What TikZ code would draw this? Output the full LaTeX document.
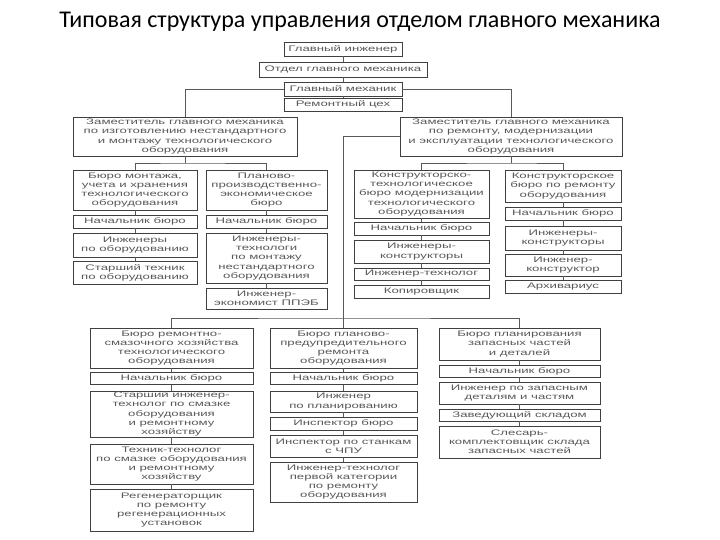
\documentclass[tikz,border=0pt]{standalone}
\usepackage{fontspec}
\newfontfamily\titlefont{Carlito}
\newfontfamily\boxfont[FakeStretch=1.65]{Liberation Sans}
\usetikzlibrary{positioning}

\tikzset{
  box/.style 2 args={draw=black!75, line width=0.7pt, align=center, inner sep=0pt,
    minimum width=#1, minimum height=#2, text=black!65,
    font=\boxfont\fontsize{8}{9.2}\selectfont},
  link/.style={draw=black!65, line width=0.7pt}
}

\begin{document}
\begin{tikzpicture}[x=1pt, y=-1pt]
    \fill[white] (0,0) rectangle (720,540);
    \useasboundingbox (0,0) rectangle (720,540);

    \node[font=\titlefont\fontsize{24}{28}\selectfont] (title) at (360,22)
        {Типовая структура управления отделом главного механика};

    % Top chain
    \node[box={118}{14}] (gi) at (343,49) {Главный инженер};
    \node[box={168}{15}] (ogm) at (343,69.5) {Отдел главного механика};
    \node[box={118}{14}] (gm) at (343,89) {Главный механик};
    \node[box={118}{13}] (rc) at (343,104.5) {Ремонтный цех};

    % Deputies
    \node[box={224}{39}] (zl) at (185,136.5) {Заместитель главного механика\\по изготовлению нестандартного\\и монтажу технологического\\оборудования};
    \node[box={222}{39}] (zr) at (511,136.5) {Заместитель главного механика\\по ремонту, модернизации\\и эксплуатации технологического\\оборудования};

    % Column A
    \node[box={124}{40}] (a1) at (135,190) {Бюро монтажа,\\учета и хранения\\технологического\\оборудования};
    \node[box={124}{13}] (a2) at (135,221.5) {Начальник бюро};
    \node[box={124}{24}] (a3) at (135,245) {Инженеры\\по оборудованию};
    \node[box={124}{23}] (a4) at (135,272.5) {Старший техник\\по оборудованию};

    % Column B
    \node[box={121}{40}] (b1) at (266.5,190) {Планово-\\производственно-\\экономическое\\бюро};
    \node[box={121}{13}] (b2) at (266.5,221.5) {Начальник бюро};
    \node[box={121}{50}] (b3) at (266.5,258) {Инженеры-\\технологи\\по монтажу\\нестандартного\\оборудования};
    \node[box={121}{21}] (b4) at (266.5,298.5) {Инженер-\\экономист ППЭБ};

    % Column C
    \node[box={135}{48}] (c1) at (421.5,194) {Конструкторско-\\технологическое\\бюро модернизации\\технологического\\оборудования};
    \node[box={135}{13}] (c2) at (421.5,228.5) {Начальник бюро};
    \node[box={135}{23}] (c3) at (421.5,251.5) {Инженеры-\\конструкторы};
    \node[box={135}{12}] (c4) at (421.5,274) {Инженер-технолог};
    \node[box={135}{13}] (c5) at (421.5,291.5) {Копировщик};

    % Column D
    \node[box={116}{32}] (d1) at (563,186) {Конструкторское\\бюро по ремонту\\оборудования};
    \node[box={116}{13}] (d2) at (563,213.5) {Начальник бюро};
    \node[box={116}{24}] (d3) at (563,238) {Инженеры-\\конструкторы};
    \node[box={116}{22}] (d4) at (563,265) {Инженер-\\конструктор};
    \node[box={116}{13}] (d5) at (563,286.5) {Архивариус};

    % Column E
    \node[box={163}{40}] (e1) at (171.5,348) {Бюро ремонтно-\\смазочного хозяйства\\технологического\\оборудования};
    \node[box={163}{12}] (e2) at (171.5,378.5) {Начальник бюро};
    \node[box={163}{46}] (e3) at (171.5,414) {Старший инженер-\\технолог по смазке\\оборудования\\и ремонтному\\хозяйству};
    \node[box={163}{40}] (e4) at (171.5,464) {Техник-технолог\\по смазке оборудования\\и ремонтному\\хозяйству};
    \node[box={163}{42}] (e5) at (171.5,510) {Регенераторщик\\по ремонту\\регенерационных\\установок};

    % Column F
    \node[box={147}{40}] (f1) at (343.5,348) {Бюро планово-\\предупредительного\\ремонта\\оборудования};
    \node[box={147}{12}] (f2) at (343.5,378.5) {Начальник бюро};
    \node[box={147}{21}] (f3) at (343.5,401.5) {Инженер\\по планированию};
    \node[box={147}{13}] (f4) at (343.5,423.5) {Инспектор бюро};
    \node[box={147}{22}] (f5) at (343.5,446) {Инспектор по станкам\\с ЧПУ};
    \node[box={147}{40}] (f6) at (343.5,482) {Инженер-технолог\\первой категории\\по ремонту\\оборудования};

    % Column G
    \node[box={161}{32}] (g1) at (519.5,344) {Бюро планирования\\запасных частей\\и деталей};
    \node[box={161}{12}] (g2) at (519.5,371) {Начальник бюро};
    \node[box={161}{22}] (g3) at (519.5,393) {Инженер по запасным\\деталям и частям};
    \node[box={161}{12}] (g4) at (519.5,415) {Заведующий складом};
    \node[box={161}{32}] (g5) at (519.5,442) {Слесарь-\\комплектовщик склада\\запасных частей};

    % Bus points
    \coordinate (lbus) at (185,163);
    \coordinate (rbus) at (511,163);
    \coordinate (bbus) at (343.5,318);

    % Links
    \draw[link] (gi) -- (ogm);
    \draw[link] (ogm) -- (gm);
    \draw[link] (gm) -- (rc);
    \draw[link] (gm.west) -| (zl.north);
    \draw[link] (gm.east) -| (zr.north);

    \draw[link] (zl.south) -- (lbus);
    \draw[link] (a1.north) |- (lbus) -| (b1.north);
    \draw[link] (zr.south) -- (rbus);
    \draw[link] (c1.north) |- (rbus) -| (d1.north);

    \draw[link] (zr.west) -| (f1.north);
    \draw[link] (e1.north) |- (bbus) -| (g1.north);

    \foreach \col/\n in {a/4,b/4,c/5,d/5,e/5,f/6,g/5} {
      \foreach \i [evaluate=\i as \j using int(\i+1)] in {1,...,\numexpr\n-1\relax} {
        \draw[link] (\col\i) -- (\col\j);
      }
    }
\end{tikzpicture}
\end{document}
